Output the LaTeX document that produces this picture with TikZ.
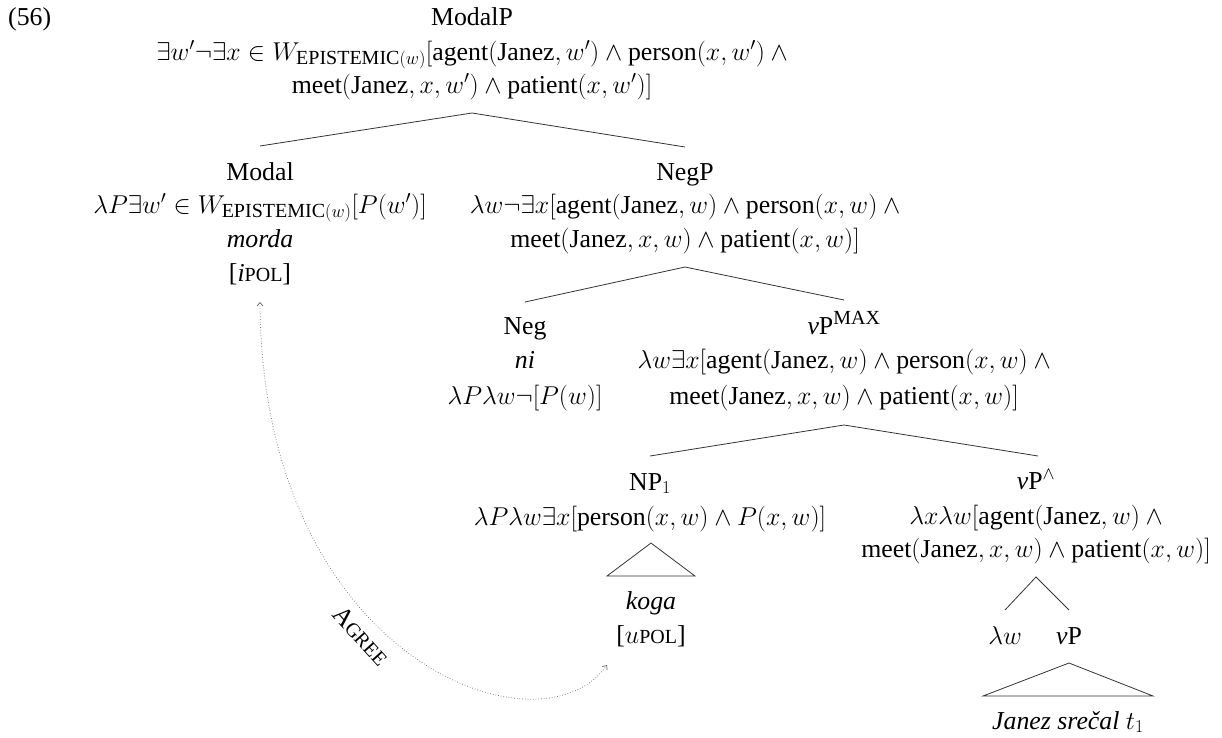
\RequirePackage{fix-cm}
\documentclass[tikz,border=0pt]{standalone}
\usepackage{amsmath,amssymb}
\usepackage[no-math]{fontspec}
\setmainfont{Liberation Serif}
\usetikzlibrary{arrows.meta}
\newcommand{\tx}[1]{\text{#1}}
\newcommand{\smc}[1]{{\fontsize{20}{20}\selectfont #1}}
\newcommand{\epi}{W_{\mbox{\smc{EPISTEMIC}}(w)}}
\tikzset{
  lbl/.style={anchor=base, inner sep=0pt, font=\fontsize{25.8}{30}\selectfont},
  branch/.style={line width=0.8pt, draw=black!80},
  agree/.style={dotted, line width=0.7pt, draw=black!60,
    {Straight Barb[length=3.5pt,width=6pt]}-{Straight Barb[length=3.5pt,width=6pt]}},
}
\begin{document}
\begin{tikzpicture}[x=1pt,y=-1pt]
\useasboundingbox (0,0) rectangle (1222,737);
% example number
\node[lbl,anchor=base west] (ex) at (8,25) {(56)};
% ModalP
\node[lbl] (modalp) at (472,25) {ModalP};
\node[lbl] (modalp1) at (475,60) {$\exists w'\neg\exists x\in \epi[\tx{agent}(\tx{Janez},w')\wedge \tx{person}(x,w')\wedge{}$};
\node[lbl] (modalp2) at (472,93) {$\tx{meet}(\tx{Janez},x,w')\wedge\tx{patient}(x,w')]$};
% Modal
\node[lbl] (modal) at (260,180) {Modal};
\node[lbl] (modal1) at (260,213) {$\lambda P\exists w'\in\epi[P(w')]$};
\node[lbl] (modal2) at (260,247) {\textit{morda}};
\node[lbl] (modal3) at (260,281) {[\textit{i}\smc{POL}]};
% NegP
\node[lbl] (negp) at (685,180) {NegP};
\node[lbl] (negp1) at (688,213) {$\lambda w\neg\exists x[\tx{agent}(\tx{Janez},w)\wedge\tx{person}(x,w)\wedge{}$};
\node[lbl] (negp2) at (685,247) {$\tx{meet}(\tx{Janez},x,w)\wedge\tx{patient}(x,w)]$};
% Neg
\node[lbl] (neg) at (525,334) {Neg};
\node[lbl] (neg1) at (525,368) {\textit{ni}};
\node[lbl] (neg2) at (525,404) {$\lambda P\lambda w\neg[P(w)]$};
% vP max
\node[lbl] (vpmax) at (844,334) {\textit{v}P$^{\mbox{\smc{MAX}}}$};
\node[lbl] (vpmax1) at (847,368) {$\lambda w\exists x[\tx{agent}(\tx{Janez},w)\wedge\tx{person}(x,w)\wedge{}$};
\node[lbl] (vpmax2) at (844,404) {$\tx{meet}(\tx{Janez},x,w)\wedge\tx{patient}(x,w)]$};
% NP1
\node[lbl] (np) at (650,490) {NP$_1$};
\node[lbl] (np1) at (650,525) {$\lambda P\lambda w\exists x[\tx{person}(x,w)\wedge P(x,w)]$};
\node[lbl] (koga) at (651,609) {\textit{koga}};
\node[lbl] (upol) at (651,643) {[$u$\smc{POL}]};
% vP wedge
\node[lbl] (vpw) at (1036,489) {\textit{v}P$^{\wedge}$};
\node[lbl] (vpw1) at (1039,524) {$\lambda x\lambda w[\tx{agent}(\tx{Janez},w)\wedge{}$};
\node[lbl] (vpw2) at (1036,557) {$\tx{meet}(\tx{Janez},x,w)\wedge\tx{patient}(x,w)]$};
\node[lbl] (lw) at (1005,644) {$\lambda w$};
\node[lbl] (vp) at (1069,644) {\textit{v}P};
\node[lbl] (janez) at (1068,729) {\textit{Janez srečal} $t_1$};
% branch points
\coordinate (b0) at (472,113);
\coordinate (b0l) at (260,146);
\coordinate (b0r) at (685,147);
\coordinate (b1) at (685,267);
\coordinate (b1l) at (525,302);
\coordinate (b1r) at (844,300);
\coordinate (b2) at (844,425);
\coordinate (b2l) at (650,456);
\coordinate (b2r) at (1038,456);
\coordinate (b3) at (1036,577);
\coordinate (b3l) at (1005,610);
\coordinate (b3r) at (1069,610);
\draw[branch] (b0l) -- (b0) -- (b0r);
\draw[branch] (b1l) -- (b1) -- (b1r);
\draw[branch] (b2l) -- (b2) -- (b2r);
\draw[branch] (b3l) -- (b3) -- (b3r);
% triangles
\coordinate (t1) at (651,543);
\coordinate (t1l) at (607,576);
\coordinate (t1r) at (695,576);
\draw[branch] (t1l) -- (t1) -- (t1r) -- cycle;
\coordinate (t2) at (1069,663);
\coordinate (t2l) at (983,696);
\coordinate (t2r) at (1153,696);
\draw[branch] (t2l) -- (t2) -- (t2r) -- cycle;
% Agree
\coordinate (ags) at (260,302);
\coordinate (age) at (607,665);
\draw[agree] (ags) .. controls (262,660) and (540,760) .. (age);
\node[lbl,anchor=center,rotate=-48] (agree) at (361,636) {A\smc{GREE}};
\end{tikzpicture}
\end{document}
